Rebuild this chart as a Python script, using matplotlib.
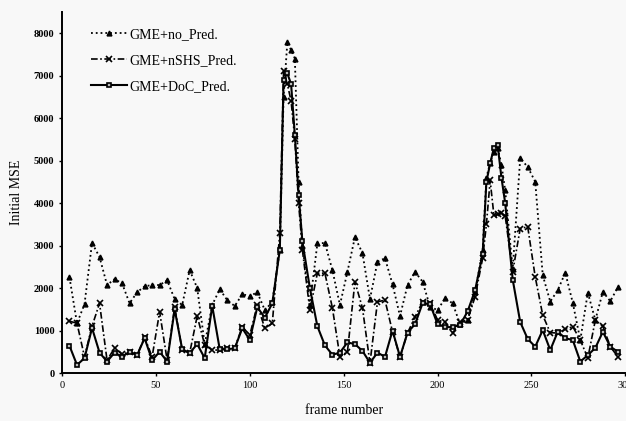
import matplotlib.pyplot as plt

# frame numbers (denser around the two peaks)
frames = [4, 8, 12, 16, 20, 24, 28, 32, 36, 40, 44, 48, 52, 56, 60, 64, 68, 72, 76, 80,
          84, 88, 92, 96, 100, 104, 108, 112, 116, 118, 120, 122, 124, 126, 128,
          132, 136, 140, 144, 148, 152, 156, 160, 164, 168, 172, 176, 180, 184, 188,
          192, 196, 200, 204, 208, 212, 216, 220, 224, 226, 228, 230, 232, 234, 236,
          240, 244, 248, 252, 256, 260, 264, 268, 272, 276, 280, 284, 288, 292, 296]

no_pred = [2250, 1170, 1620, 3060, 2730, 2070, 2210, 2110, 1640, 1900, 2040, 2070, 2070, 2180, 1740, 1600, 2420, 2000, 680, 1600,
           1970, 1715, 1575, 1855, 1810, 1900, 1480, 1670, 2900, 6500, 7780, 7600, 7400, 4500, 3000,
           1600, 3050, 3060, 2420, 1600, 2380, 3200, 2820, 1740, 2620, 2700, 2090, 1340, 2070, 2380,
           2150, 1560, 1480, 1760, 1640, 1150, 1250, 1900, 2900, 4600, 4950, 5200, 5300, 4900, 4300,
           2450, 5050, 4850, 4500, 2300, 1680, 1950, 2360, 1650, 775, 1890, 1245, 1910, 1690, 2020]

nshs_pred = [1220, 1170, 380, 1100, 1640, 300, 590, 440, 500, 420, 840, 380, 1440, 300, 1550, 540, 470, 1340, 660, 540,
             540, 590, 590, 1090, 890, 1600, 1055, 1170, 3300, 7100, 6800, 6400, 5500, 4000, 2900,
             1480, 2350, 2350, 1530, 380, 500, 2145, 1530, 235, 1675, 1715, 970, 380, 940, 1320,
             1675, 1650, 1245, 1200, 940, 1200, 1245, 1800, 2700, 3500, 4530, 3710, 3730, 3760, 3700,
             2380, 3400, 3440, 2260, 1360, 950, 940, 1030, 1090, 775, 350, 1245, 1100, 620, 380]

doc_pred = [640, 190, 350, 1060, 480, 270, 480, 380, 500, 420, 820, 300, 500, 270, 1500, 560, 470, 680, 350, 1580,
            560, 560, 580, 1055, 780, 1550, 1300, 1640, 2900, 6900, 7050, 6800, 5600, 4200, 3100,
            2000, 1100, 650, 430, 480, 720, 680, 520, 240, 480, 380, 1000, 380, 950, 1150,
            1640, 1620, 1150, 1080, 1080, 1130, 1450, 1950, 2800, 4500, 4930, 5300, 5360, 4600, 4000,
            2200, 1200, 800, 620, 1010, 540, 970, 820, 775, 270, 420, 590, 970, 620, 500]

labels = ['GME+no_Pred.', 'GME+nSHS_Pred.', 'GME+DoC_Pred.']

plt.rcParams['font.family'] = ['Liberation Serif', 'DejaVu Serif']

fig = plt.figure(figsize=(6.26, 4.21), dpi=100)
fig.patch.set_facecolor('#f8f8f8')
ax = fig.add_axes([0.099, 0.114, 0.900, 0.858])
ax.set_facecolor('#f8f8f8')

ax.plot(frames, no_pred, color='black', linestyle=':', linewidth=1.3,
        marker='^', markersize=3.5, label=labels[0])
ax.plot(frames, nshs_pred, color='black', linestyle=(0, (4, 1.5, 1, 1.5)), linewidth=1.2,
        marker='x', markersize=4, markeredgewidth=1.2, label=labels[1])
ax.plot(frames, doc_pred, color='black', linestyle='-', linewidth=1.5,
        marker='s', markersize=3.5, markerfacecolor='#bbbbbb', markeredgewidth=1.2,
        label=labels[2])

ax.set_xlim(0, 300)
ax.set_ylim(0, 8500)
ax.set_xticks([0, 50, 100, 150, 200, 250, 300])
ax.set_yticks(range(0, 8001, 1000))
ax.tick_params(axis='both', length=2, width=1, labelsize=7.5)
for t in ax.get_yticklabels():
    t.set_fontweight('bold')
ax.spines['top'].set_visible(False)
ax.spines['right'].set_visible(False)
ax.spines['left'].set_linewidth(1.4)
ax.spines['bottom'].set_linewidth(1.4)

ax.set_xlabel('frame number', fontsize=10, labelpad=10)
ax.set_ylabel('Initial MSE', fontsize=10, labelpad=8)

ax.legend(loc='upper left', bbox_to_anchor=(0.03, 0.99), frameon=False, fontsize=10,
          handlelength=2.6, handletextpad=0.1, labelspacing=0.95)

fig.savefig('out.png', dpi=100, facecolor=fig.get_facecolor())
